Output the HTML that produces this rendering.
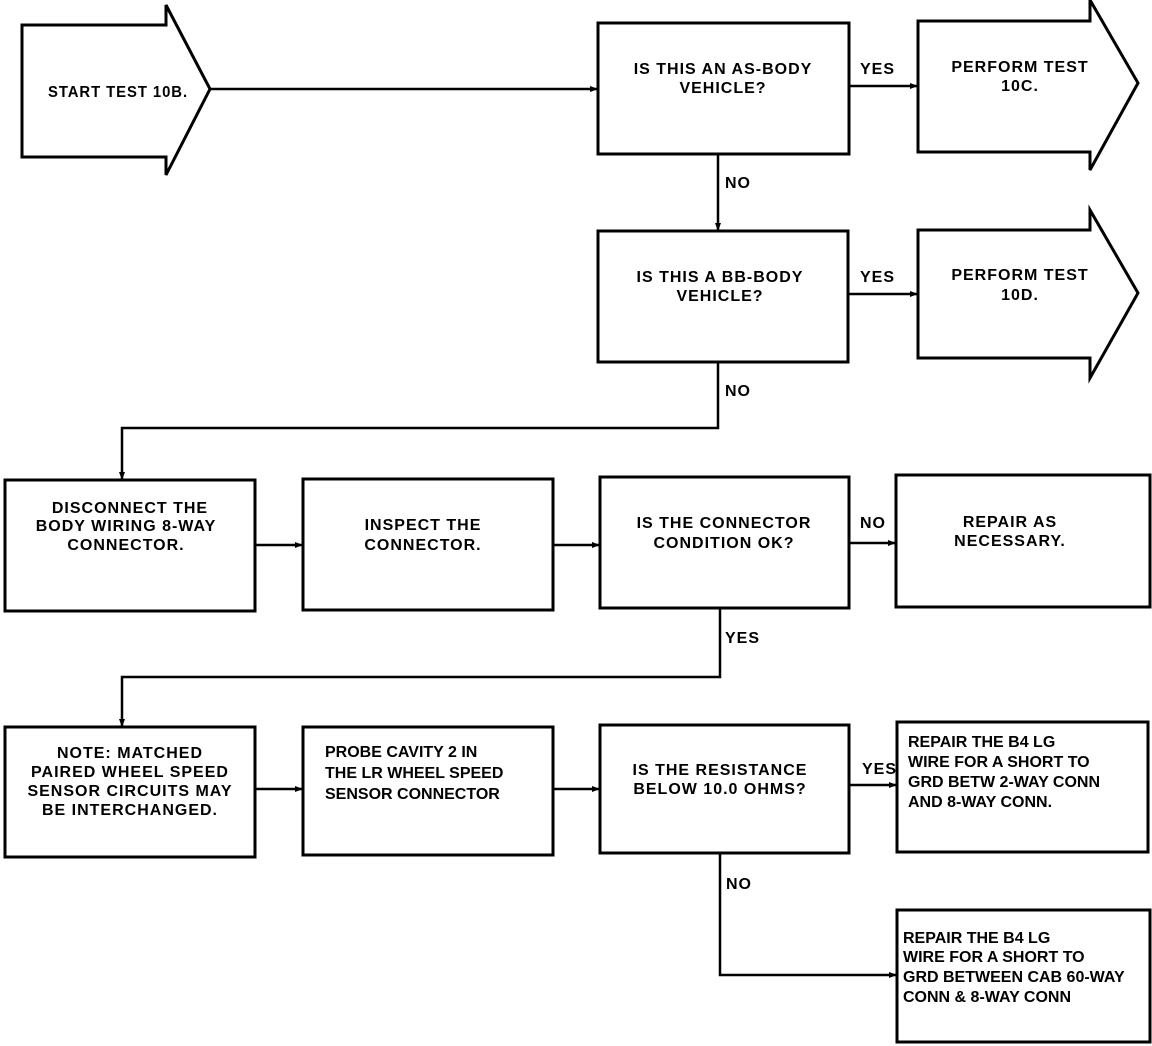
<!DOCTYPE html>
<html><head><style>
body{margin:0;background:#fff;}
svg{display:block}
text{font-family:"Liberation Sans",sans-serif;font-size:16px;fill:#000;}
.t{letter-spacing:1px;font-weight:bold;}
.b{font-weight:bold;font-size:15.5px;}
</style></head><body>
<svg width="1152" height="1046" viewBox="0 0 1152 1046">
<defs><marker id="a" markerWidth="8" markerHeight="8" refX="7" refY="4" orient="auto" markerUnits="userSpaceOnUse"><path d="M0,1 L8,4 L0,7z" fill="#000"/></marker></defs>
<g fill="none" stroke="#000" stroke-width="3">
<path d="M166,25 L22,25 L22,157 L166,157 L166,175 L210,89 L166,5 Z"/>
<path d="M1090,21 L918,21 L918,152 L1090,152 L1090,170 L1138,83 L1090,0 Z"/>
<path d="M1090,230 L918,230 L918,358 L1090,358 L1090,378 L1138,293 L1090,210 Z"/>
<rect x="598" y="23" width="251" height="131"/>
<rect x="598" y="231" width="250" height="131"/>
<rect x="5" y="480" width="250" height="131"/>
<rect x="303" y="479" width="250" height="131"/>
<rect x="600" y="477" width="249" height="131"/>
<rect x="896" y="475" width="254" height="132"/>
<rect x="5" y="727" width="250" height="130"/>
<rect x="303" y="727" width="250" height="128"/>
<rect x="600" y="725" width="249" height="128"/>
<rect x="897" y="722" width="251" height="130"/>
<rect x="897" y="910" width="253" height="132"/>
</g>
<g fill="none" stroke="#000" stroke-width="2.5" marker-end="url(#a)">
<path d="M210,89 L597,89"/>
<path d="M849,86 L917,86"/>
<path d="M718,154 L718,230"/>
<path d="M848,294 L917,294"/>
<path d="M718,362 L718,428 L122,428 L122,479"/>
<path d="M255,545 L302,545"/>
<path d="M553,545 L599,545"/>
<path d="M849,543 L895,543"/>
<path d="M720,608 L720,677 L122,677 L122,726"/>
<path d="M255,789 L302,789"/>
<path d="M553,789 L599,789"/>
<path d="M849,785 L896,785"/>
<path d="M720,853 L720,975 L896,975"/>
</g>
<g class="t">
<text x="48" y="97" textLength="140" lengthAdjust="spacingAndGlyphs">START TEST 10B.</text>
<text x="723" y="74" text-anchor="middle">IS THIS AN AS-BODY</text>
<text x="723" y="93" text-anchor="middle">VEHICLE?</text>
<text x="860" y="74">YES</text>
<text x="1020" y="72" text-anchor="middle">PERFORM TEST</text>
<text x="1020" y="91" text-anchor="middle">10C.</text>
<text x="725" y="188">NO</text>
<text x="720" y="282" text-anchor="middle">IS THIS A BB-BODY</text>
<text x="720" y="301" text-anchor="middle">VEHICLE?</text>
<text x="860" y="282">YES</text>
<text x="1020" y="280" text-anchor="middle">PERFORM TEST</text>
<text x="1020" y="300" text-anchor="middle">10D.</text>
<text x="725" y="396">NO</text>
<text x="130" y="513" text-anchor="middle">DISCONNECT THE</text>
<text x="126" y="531" text-anchor="middle">BODY WIRING 8-WAY</text>
<text x="126" y="550" text-anchor="middle">CONNECTOR.</text>
<text x="423" y="530" text-anchor="middle">INSPECT THE</text>
<text x="423" y="550" text-anchor="middle">CONNECTOR.</text>
<text x="724" y="528" text-anchor="middle">IS THE CONNECTOR</text>
<text x="724" y="548" text-anchor="middle">CONDITION OK?</text>
<text x="860" y="528">NO</text>
<text x="1010" y="527" text-anchor="middle">REPAIR AS</text>
<text x="1010" y="546" text-anchor="middle">NECESSARY.</text>
<text x="725" y="643">YES</text>
<text x="130" y="758" text-anchor="middle">NOTE:  MATCHED</text>
<text x="130" y="777" text-anchor="middle">PAIRED WHEEL SPEED</text>
<text x="130" y="796" text-anchor="middle">SENSOR CIRCUITS MAY</text>
<text x="130" y="815" text-anchor="middle">BE INTERCHANGED.</text>
<text x="720" y="775" text-anchor="middle">IS THE RESISTANCE</text>
<text x="720" y="794" text-anchor="middle">BELOW 10.0 OHMS?</text>
<text x="862" y="774">YES</text>
<text x="726" y="889">NO</text>
</g>
<g class="b">
<text x="325" y="757">PROBE CAVITY 2 IN</text>
<text x="325" y="778">THE LR WHEEL SPEED</text>
<text x="325" y="799">SENSOR CONNECTOR</text>
<text x="908" y="747">REPAIR THE B4 LG</text>
<text x="908" y="767">WIRE FOR A SHORT TO</text>
<text x="908" y="787">GRD BETW 2-WAY CONN</text>
<text x="908" y="807">AND 8-WAY CONN.</text>
<text x="903" y="943">REPAIR THE B4 LG</text>
<text x="903" y="962">WIRE FOR A SHORT TO</text>
<text x="903" y="982">GRD BETWEEN CAB 60-WAY</text>
<text x="903" y="1002">CONN &amp; 8-WAY CONN</text>
</g>
</svg>
</body></html>
